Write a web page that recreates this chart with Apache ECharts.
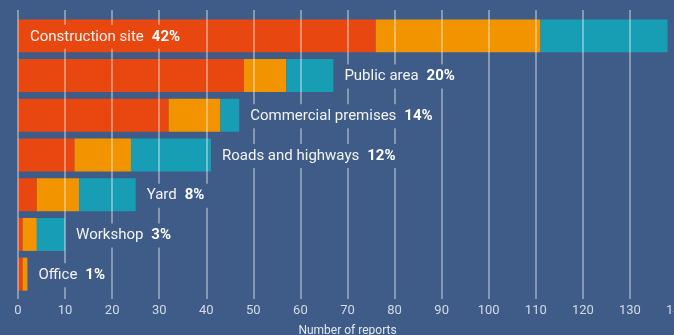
<!DOCTYPE html>
<html>
<head>
<meta charset="utf-8">
<script src="https://cdn.jsdelivr.net/npm/echarts@6/dist/echarts.min.js"></script>
<style>
  html, body { margin: 0; padding: 0; background: #3e5c87; }
  #chart { width: 674px; height: 335px; }
</style>
</head>
<body>
<div id="chart"></div>
<script>
// Reports by location, split into three stacked groups
const categories = ['Construction site', 'Public area', 'Commercial premises', 'Roads and highways', 'Yard', 'Workshop', 'Office'];
const redValues = [76, 48, 32, 12, 4, 1, 1];
const orangeValues = [35, 9, 11, 12, 9, 3, 1];
const cyanValues = [27, 10, 4, 17, 12, 6, 0];
const shares = ['42%', '20%', '14%', '12%', '8%', '3%', '1%'];
const axisMin = 0;
const axisMax = 140;
const axisStep = 10;

const BG = '#3e5c87';
const RED = '#e84710';
const ORANGE = '#f29400';
const CYAN = '#179eb5';
const FONT = 'Roboto, "Noto Sans", sans-serif';

const totals = categories.map((_, i) => redValues[i] + orangeValues[i] + cyanValues[i]);
const labelData = categories.map((c, i) => [totals[i], i, c, shares[i]]);

const chart = echarts.init(document.getElementById('chart'), null, { renderer: 'canvas' });

chart.setOption({
  backgroundColor: BG,
  animation: false,
  textStyle: { fontFamily: FONT },
  grid: [
    { left: 18, right: -3, top: 16, bottom: 41, containLabel: false, outerBoundsMode: 'none' },
    { left: 18, right: -3, top: 10, bottom: 36, containLabel: false, outerBoundsMode: 'none' }
  ],
  xAxis: [
    { gridIndex: 0, type: 'value', min: axisMin, max: axisMax, interval: axisStep, show: false },
    {
      gridIndex: 1, type: 'value', min: axisMin, max: axisMax, interval: axisStep, z: 3,
      axisLine: { show: false }, axisTick: { show: false },
      axisLabel: { color: '#d3dae6', fontSize: 13, margin: 5, fontFamily: FONT },
      splitLine: { show: true, lineStyle: { color: 'rgba(255,255,255,0.5)', width: 1.5 } },
      name: 'Number of reports', nameLocation: 'middle', nameGap: 26,
      nameTextStyle: { color: '#e4e9f1', fontSize: 12, fontFamily: FONT }
    }
  ],
  yAxis: [
    { gridIndex: 0, type: 'category', data: categories, inverse: true, show: false },
    { gridIndex: 1, type: 'value', show: false, splitLine: { show: false } }
  ],
  series: [
    { type: 'bar', stack: 'all', data: redValues, barWidth: '83%', itemStyle: { color: RED }, z: 2 },
    { type: 'bar', stack: 'all', data: orangeValues, barWidth: '83%', itemStyle: { color: ORANGE }, z: 2 },
    { type: 'bar', stack: 'all', data: cyanValues, barWidth: '83%', itemStyle: { color: CYAN }, z: 2 },
    {
      type: 'custom', xAxisIndex: 0, yAxisIndex: 0, z: 5, data: labelData,
      renderItem: function (params, api) {
        const idx = api.value(1);
        const inside = idx === 0;
        const pt = inside ? api.coord([axisMin, idx]) : api.coord([api.value(0), idx]);
        return {
          type: 'text',
          x: pt[0] + (inside ? 8 : 7),
          y: pt[1] + 1,
          style: {
            text: '{n|' + categories[idx] + '}{p|' + shares[idx] + '}',
            align: 'left',
            verticalAlign: 'middle',
            backgroundColor: inside ? RED : BG,
            padding: [4, 4],
            rich: {
              n: { fill: '#f4f4f4', fontSize: 15, fontFamily: FONT, lineHeight: 16 },
              p: { fill: '#ffffff', fontSize: 15, fontWeight: 'bold', fontFamily: FONT, lineHeight: 16, padding: [0, 0, 0, 8] }
            }
          }
        };
      }
    }
  ]
});
</script>
</body>
</html>
